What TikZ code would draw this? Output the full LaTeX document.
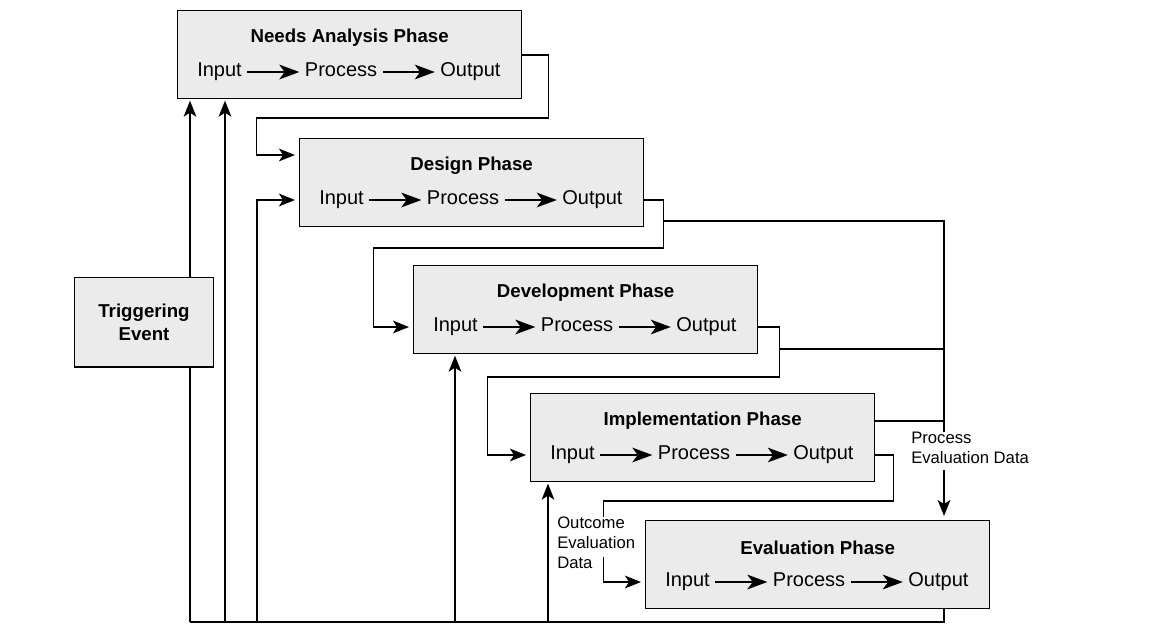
\documentclass[tikz,border=0pt]{standalone}
\usepackage{fontspec}
\setmainfont{Liberation Sans}
\usetikzlibrary{positioning,calc,arrows.meta}

\begin{document}
\begin{tikzpicture}[x=0.75pt, y=-0.75pt,
  phase/.style={draw, line width=1pt, fill=black!8, minimum width=258pt, minimum height=66pt, anchor=north west, inner sep=0pt},
  trig/.style={phase, minimum width=104pt, minimum height=67pt, align=center, font=\fontsize{14}{17}\selectfont\bfseries},
  ttl/.style={font=\fontsize{14}{16}\selectfont\bfseries},
  ipo/.style={font=\fontsize{15}{17}\selectfont, inner sep=0pt, text height=1.6ex, text depth=.45ex},
  note/.style={font=\fontsize{12.5}{15}\selectfont, align=left, inner sep=0pt, anchor=north west},
  flow/.style={-{Stealth[length=15pt,width=11pt,inset=4pt]}, line width=1.6pt, shorten <=4pt, shorten >=4pt},
  link/.style={line width=1.2pt},
  >={Stealth[length=12pt,width=9.5pt,inset=3pt]}]
  \useasboundingbox (0,0) rectangle (1156,629);
  % Phases
  \foreach \n/\x/\y/\ph in {na/177/10/Needs Analysis Phase, ds/299/138/Design Phase,
      dv/413/265/Development Phase, im/530/393/Implementation Phase, ev/645/520/Evaluation Phase}{
    \node[phase] (\n) at (\x,\y) {};
    \node[ttl] (\n-t) at ($(\n.north)+(0,28)$) {\ph};
    \node[ipo, anchor=west] (\n-i) at ($(\n.north west)+(20,62)$) {Input};
    \node[ipo, right=47pt of \n-i] (\n-p) {Process};
    \node[ipo, right=47pt of \n-p] (\n-o) {Output};
    \draw[flow] (\n-i) -- (\n-p);
    \draw[flow] (\n-p) -- (\n-o);
  }
  \coordinate (pe) at (944,0);
  \foreach \k/\x in {1/190,2/225,3/257,4/455,5/548}
    \coordinate (b\k) at (\x,622);
  \node[note] (ped) at (911,432) {Process\\Evaluation Data};
  \node[note] (oed) at (557,517) {Outcome\\Evaluation\\Data};
  % Forward links
  \draw[link,->,shorten >=3pt] ($(na.north east)+(0,45)$) -- ++(26,0) |- ++(-292,63) |- ($(ds.north west)+(0,17)$);
  \draw[link,->,shorten >=3pt] (ds.east |- ds-o) -- ++(19,0) |- ++(-290,48) |- (dv.west |- dv-o);
  \draw[link,->,shorten >=3pt] (dv.east |- dv-o) -- ++(21,0) |- ++(-292,50) |- (im.west |- im-o);
  \draw[link] (im.east |- im-o) -- ++(18,0) |- ++(-290,46) coordinate (j3) -- (j3 |- oed.north);
  \draw[link,->,shorten >=3pt] ($(j3 |- oed.south)+(0,-12)$) |- (ev.west |- ev-o);
  % Process evaluation data
  \draw[link] ($(ds.east |- ds-o)+(19,21)$) -| (pe |- ped.north);
  \draw[link] ($(dv.east |- dv-o)+(21,22)$) coordinate (j2) -- (j2 -| pe);
  \draw[link] (im.east |- im-t) -- (im-t -| pe);
  \draw[link,->,shorten <=4pt,shorten >=3pt] (pe |- ped.south) -- (pe |- ev.north);
  % Feedback
  \draw[link] (ev.south -| pe) |- (b1);
  \draw[link,->,shorten >=1pt] (b1) -- (b1 |- na.south);
  \draw[link,->,shorten >=1pt] (b2) -- (b2 |- na.south);
  \draw[link,->,shorten >=3pt] (b3) |- (ds.west |- ds-o);
  \draw[link,->,shorten >=1pt] (b4) -- (b4 |- dv.south);
  \draw[link,->,shorten >=1pt] (b5) -- (b5 |- im.south);
  \node[trig] (te) at (74,277) {Triggering\\Event};
\end{tikzpicture}
\end{document}
